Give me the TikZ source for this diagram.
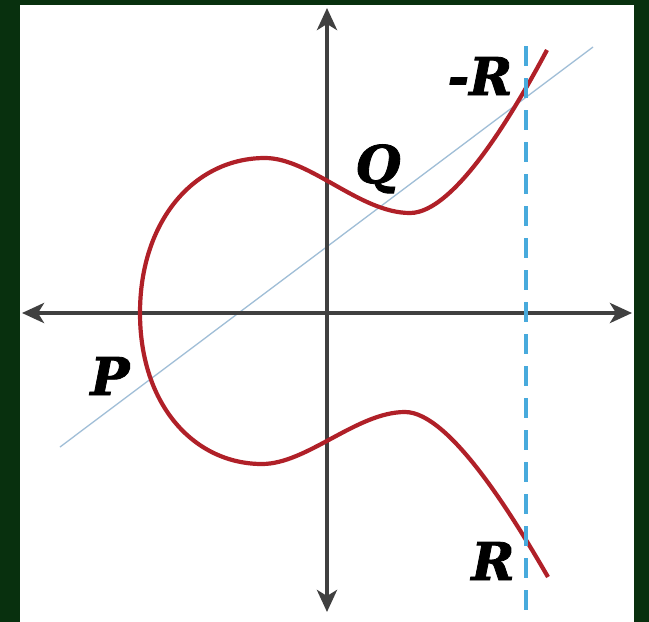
\documentclass[tikz,border=0pt]{standalone}
\usepackage{fontspec}
\setmainfont{DejaVu Serif}
\newfontfamily\labfont[FakeBold=1.6]{DejaVu Serif}
\usetikzlibrary{arrows.meta}
\definecolor{frame}{RGB}{8,48,14}
\definecolor{axgray}{RGB}{64,64,64}
\definecolor{crvred}{RGB}{176,32,40}
\definecolor{secblue}{RGB}{160,190,215}
\definecolor{dashblue}{RGB}{72,170,220}

\begin{document}
\begin{tikzpicture}[x=1pt,y=-1pt,>={Stealth[length=22pt,width=20pt,inset=6pt]},
  ax/.style={draw=axgray,line width=4.5pt},
  crv/.style={draw=crvred,line width=4.2pt},
  sec/.style={draw=secblue,line width=1.3pt},
  vert/.style={draw=dashblue,line width=4.5pt,dash pattern=on 20pt off 12pt},
  lab/.style={font=\fontsize{52}{52}\selectfont\labfont\bfseries\itshape,inner sep=0pt,anchor=base}]
  \useasboundingbox (0,0) rectangle (649,622);
  \fill[frame] (0,0) rectangle (649,622);
  \fill[white] (20,5) rectangle (634,622);
  % axes and lines
  \coordinate (xl) at (22,313);\coordinate (xr) at (632,313);
  \coordinate (yt) at (327,8);\coordinate (yb) at (327,612);
  \coordinate (s1) at (60,447);\coordinate (s2) at (593,47);
  \coordinate (d1) at (526,46);\coordinate (d2) at (526,622);
  \draw[sec] (s1)--(s2);
  \draw[ax,<->] (xl)--(xr);
  \draw[ax,<->] (yb)--(yt);
  % curve
  \draw[crv] (547,50) .. controls (515,110) and (455,213) .. (410,213)
    .. controls (360,213) and (310,158) .. (265,158)
    .. controls (195,158) and (140,220) .. (140,313)
    .. controls (140,406) and (195,464) .. (262,464)
    .. controls (307,464) and (357,412) .. (405,412)
    .. controls (450,412) and (515,520) .. (548,577);
  \draw[vert] (d1)--(d2);
  % labels
  \node[lab] (mr) at (480,95) {-R};
  \node[lab] (q) at (378,183) {Q};
  \node[lab] (p) at (110,395) {P};
  \node[lab] (r) at (493,580) {R};
\end{tikzpicture}
\end{document}
